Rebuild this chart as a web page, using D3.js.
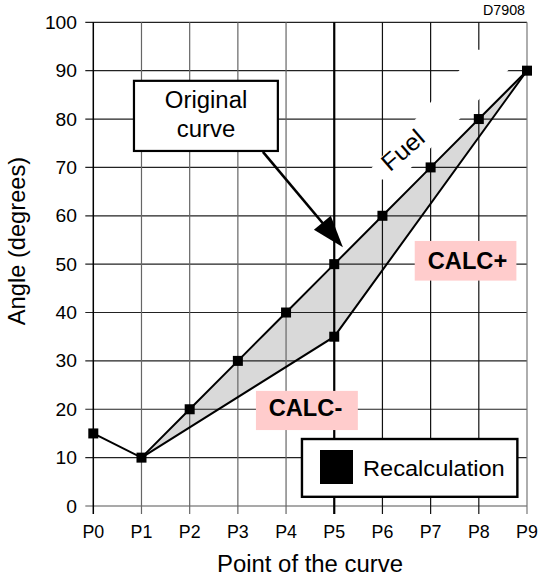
<!DOCTYPE html>
<html>
<head>
<meta charset="utf-8">
<script src="https://cdn.jsdelivr.net/npm/d3@7/dist/d3.min.js"></script>
<style>
  html, body { margin: 0; padding: 0; background: #fff; }
  svg { display: block; font-family: "Liberation Sans", Arial, Helvetica, sans-serif; }
</style>
</head>
<body>
<svg id="chart" width="539" height="580"></svg>
<script>
// ---------- data ----------
const categories = ["P0","P1","P2","P3","P4","P5","P6","P7","P8","P9"];
const originalCurve = [15, 10, 20, 30, 40, 50, 60, 70, 80, 90];
const calcIdx = [1, 5, 9];            // points of the recalculated (lower) curve
const calcValues = [10, 35, 90];
const recalcMarkers = [{i: 5, v: 35}];
const yTicks = [0, 10, 20, 30, 40, 50, 60, 70, 80, 90, 100];
const docId = "D7908";
const xTitle = "Point of the curve";
const yTitle = "Angle (degrees)";
const legendLabel = "Recalculation";
const calloutLines = ["Original", "curve"];

// ---------- scales ----------
const svg = d3.select("#chart");
const x = d3.scaleLinear().domain([0, categories.length - 1]).range([93.3, 527]);
const y = d3.scaleLinear().domain([0, 100]).range([506, 22.3]);

// text helper with slight horizontal stretch (the reference type is wide)
function txt(px, py, s, size, opts = {}) {
  const sx = opts.sx || 1.05;
  const rot = opts.rot || 0;
  const t = svg.append("text")
    .attr("transform", `translate(${px},${py}) rotate(${rot}) scale(${sx},1)`)
    .attr("text-anchor", opts.anchor || "start")
    .attr("font-size", size)
    .attr("fill", "#000")
    .text(s);
  if (opts.bold) t.attr("font-weight", "bold");
  if (opts.dy) t.attr("dy", opts.dy);
  return t;
}

// ---------- gray area between curves ----------
const upperPts = originalCurve.map((v, i) => [i, v]).filter(d => d[0] >= 1);
const lowerPts = calcIdx.map((i, k) => [i, calcValues[k]]);
const areaPoly = upperPts.concat(lowerPts.slice().reverse());
svg.append("path")
  .attr("d", d3.line().x(d => x(d[0])).y(d => y(d[1]))(areaPoly) + "Z")
  .attr("fill", "#d9d9d9").attr("stroke", "none");

// ---------- grid ----------
const grid = svg.append("g");
yTicks.forEach(t => {
  grid.append("line")
    .attr("x1", x(0) - 8).attr("x2", x(9))
    .attr("y1", y(t)).attr("y2", y(t))
    .attr("stroke", t === 0 ? "#555" : "#222").attr("stroke-width", 1.2);
});
categories.forEach((c, i) => {
  let col = "#111", w = 1.2;
  if (i >= 1 && i <= 4) col = "#666";
  if (i === 9) col = "#777";
  if (i === 0) { col = "#000"; w = 1.5; }
  if (i === 5) { col = "#000"; w = 2.2; }
  grid.append("line")
    .attr("x1", x(i)).attr("x2", x(i))
    .attr("y1", y(100)).attr("y2", y(0) + 8)
    .attr("stroke", col).attr("stroke-width", w);
});

// white band behind the "Fuel" label (hides grid)
const fuelBand = [[5.56, 67.5], [6.35, 67.5], [8.95, 93.5], [8.95, 94.3], [7.98, 94.3]];
svg.append("path")
  .attr("d", d3.line().x(d => x(d[0])).y(d => y(d[1]))(fuelBand) + "Z")
  .attr("fill", "#fff");

// ---------- axes labels ----------
yTicks.forEach(d => txt(77, y(d) + 6.5, String(d), 18, {anchor: "end", sx: 1.07}));
categories.forEach((d, i) => txt(x(i), 537.5, d, 17.5, {anchor: "middle", sx: 1.02}));
txt(310, 571.5, xTitle, 23, {anchor: "middle", sx: 1.04});
txt(25, 241, yTitle, 23, {anchor: "middle", rot: -90, sx: 1.03});
txt(525, 15, docId, 14, {anchor: "end", sx: 1.02});

// ---------- curves ----------
const line = d3.line().x(d => x(d[0])).y(d => y(d[1]));
svg.append("path")
  .attr("d", line(originalCurve.map((v, i) => [i, v])))
  .attr("fill", "none").attr("stroke", "#000").attr("stroke-width", 2);
svg.append("path")
  .attr("d", line(lowerPts))
  .attr("fill", "none").attr("stroke", "#000").attr("stroke-width", 2);

// markers
const ms = 10;
svg.append("g").selectAll("rect")
  .data(originalCurve.map((v, i) => ({i, v})).concat(recalcMarkers))
  .join("rect")
  .attr("x", d => x(d.i) - ms / 2).attr("y", d => y(d.v) - ms / 2)
  .attr("width", ms).attr("height", ms).attr("fill", "#000");

// ---------- annotations ----------
// "Fuel"
txt(x(6.42), y(73.6), "Fuel", 24, {anchor: "middle", rot: -41, dy: "0.35em", sx: 1.04});

// callout "Original curve"
const cb = {x0: 0.844, x1: 3.83, v0: 87.9, v1: 73.4};
svg.append("rect")
  .attr("x", x(cb.x0)).attr("y", y(cb.v0))
  .attr("width", x(cb.x1) - x(cb.x0)).attr("height", y(cb.v1) - y(cb.v0))
  .attr("fill", "#fff").attr("stroke", "#000").attr("stroke-width", 2.2);
txt(x(2.34), 107.5, calloutLines[0], 23, {anchor: "middle", sx: 1.04});
txt(x(2.34), 136.5, calloutLines[1], 23, {anchor: "middle", sx: 1.04});

// arrow
const a0 = [x(3.52), y(73.2)], a1 = [x(5.18), y(53.5)];
const dx = a1[0] - a0[0], dy = a1[1] - a0[1], L = Math.hypot(dx, dy);
const ux = dx / L, uy = dy / L, hl = 32, hw = 11;
const bc = [a1[0] - ux * hl, a1[1] - uy * hl];
svg.append("line")
  .attr("x1", a0[0]).attr("y1", a0[1]).attr("x2", bc[0] + ux * 4).attr("y2", bc[1] + uy * 4)
  .attr("stroke", "#000").attr("stroke-width", 2.6);
svg.append("path")
  .attr("d", `M${a1[0]},${a1[1]} L${bc[0] - uy * hw},${bc[1] + ux * hw} L${bc[0] + uy * hw},${bc[1] - ux * hw} Z`)
  .attr("fill", "#000");

// CALC+ / CALC- labels
function calcLabel(i0, i1, v0, v1, s, tx, ty) {
  svg.append("rect")
    .attr("x", x(i0)).attr("y", y(v0))
    .attr("width", x(i1) - x(i0)).attr("height", y(v1) - y(v0))
    .attr("fill", "#ffcccc");
  txt(tx, ty, s, 23, {anchor: "middle", bold: true, sx: 1.03});
}
calcLabel(6.67, 8.78, 54.8, 46.6, "CALC+", 467.5, 268.5);
calcLabel(3.375, 5.49, 23.8, 15.7, "CALC-", 305.5, 415.5);

// legend
svg.append("rect")
  .attr("x", x(4.33)).attr("y", y(13.85))
  .attr("width", x(8.8) - x(4.33)).attr("height", y(1.9) - y(13.85))
  .attr("fill", "#fff").attr("stroke", "#000").attr("stroke-width", 2.4);
svg.append("rect")
  .attr("x", 320).attr("y", 450).attr("width", 33).attr("height", 34).attr("fill", "#000");
txt(363, 476, legendLabel, 22.5, {sx: 1.05});
</script>
</body>
</html>
